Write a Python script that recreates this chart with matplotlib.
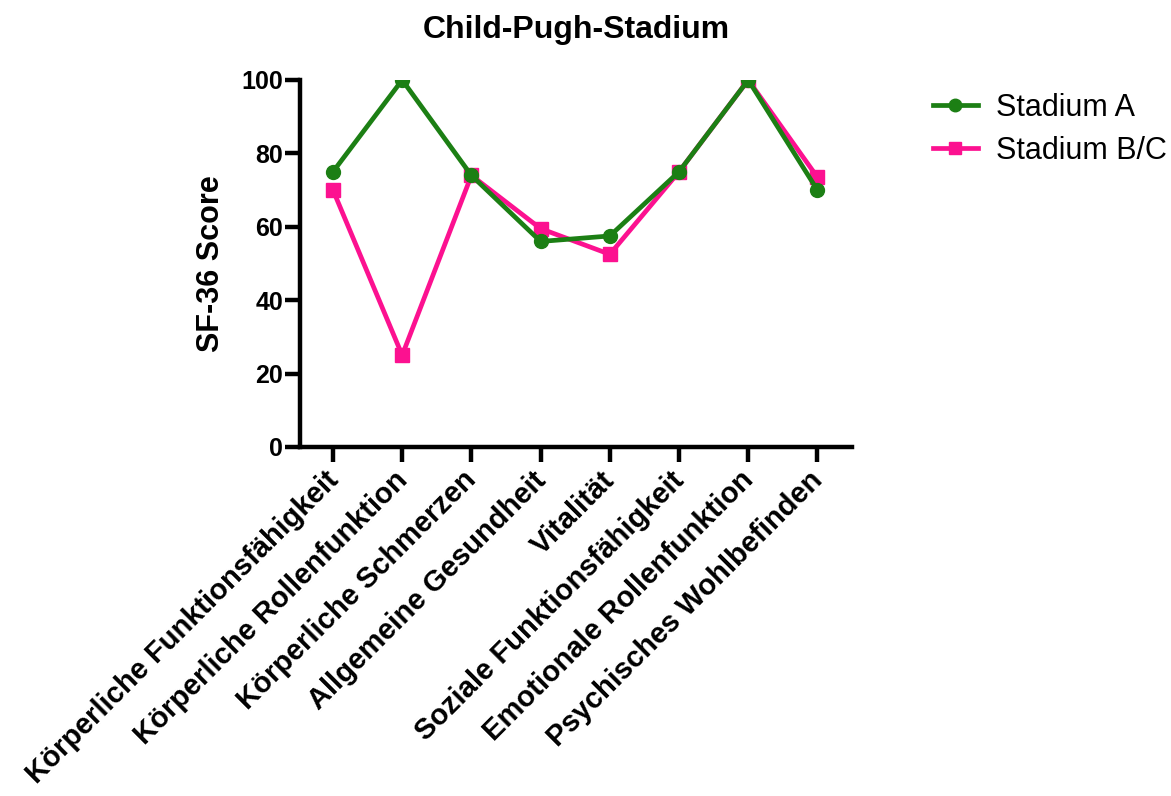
import matplotlib
matplotlib.use("Agg")
import matplotlib.pyplot as plt
import matplotlib.transforms as mtransforms
import numpy as np

plt.rcParams['font.family'] = ['Liberation Sans', 'DejaVu Sans']

categories = ["Körperliche Funktionsfähigkeit", "Körperliche Rollenfunktion",
              "Körperliche Schmerzen", "Allgemeine Gesundheit", "Vitalität",
              "Soziale Funktionsfähigkeit", "Emotionale Rollenfunktion",
              "Psychisches Wohlbefinden"]
stadium_a = [75, 100, 74, 56, 57.5, 75, 100, 70]
stadium_bc = [70, 25, 74, 59.5, 52.5, 75, 100, 73.5]
yticks = [0, 20, 40, 60, 80, 100]

green = '#1c7f14'
pink = '#fc1190'

fig = plt.figure(figsize=(11.71, 7.96), dpi=100)
ax = fig.add_axes([0.256, 0.4385, 0.4716, 0.461])

x = np.arange(len(categories))
ax.plot(x, stadium_bc, color=pink, lw=3.4, marker='s', ms=10, label='Stadium B/C', zorder=3)
ax.plot(x, stadium_a, color=green, lw=3.4, marker='o', ms=10, label='Stadium A', zorder=4)

ax.set_xlim(-0.48, 7.5)
ax.set_ylim(0, 100)
ax.set_yticks(yticks)
ax.set_xticks(x)
ax.set_xticklabels([])
# slanted category labels, placed a bit left of each tick like the original
offset = mtransforms.ScaledTranslation(-0.09, -0.19, fig.dpi_scale_trans)
for i, c in zip(x, categories):
    ax.text(i, 0, c, transform=ax.get_xaxis_transform() + offset,
            rotation=45, ha='right', va='top', rotation_mode='anchor',
            fontsize=21, fontweight='bold')
for lab in ax.get_yticklabels():
    lab.set_fontsize(18)
    lab.set_fontweight('bold')

for s in ['top', 'right']:
    ax.spines[s].set_visible(False)
for s in ['left', 'bottom']:
    ax.spines[s].set_linewidth(3.2)
ax.tick_params(axis='both', length=11, width=3.2, direction='out')
ax.tick_params(axis='y', pad=1)

ax.set_ylabel("SF-36 Score", fontsize=22, fontweight='bold', labelpad=11)
ax.set_title("Child-Pugh-Stadium", fontsize=23, fontweight='bold', pad=30)

h, l = ax.get_legend_handles_labels()
ax.legend(h[::-1], l[::-1], loc='upper left', bbox_to_anchor=(1.147, 0.965),
          frameon=False, fontsize=22, handlelength=1.45, handletextpad=0.6,
          labelspacing=0.42, borderpad=0, borderaxespad=0, markerscale=0.9)

plt.savefig("out.png", dpi=100)
